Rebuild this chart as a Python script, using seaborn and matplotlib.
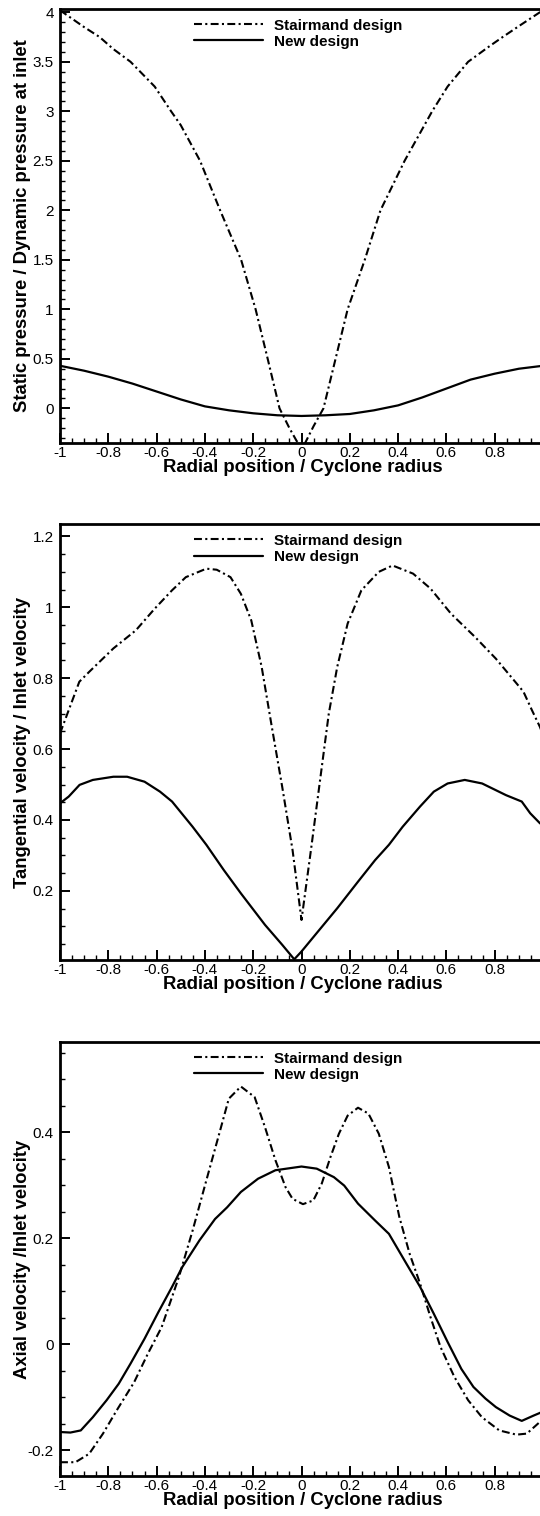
import numpy as np
import pandas as pd
import matplotlib
matplotlib.use("Agg")
import matplotlib.pyplot as plt
from matplotlib.ticker import MultipleLocator, FuncFormatter
import seaborn as sns

sns.set_style("white")
plt.rcParams["font.family"] = ["Liberation Sans", "DejaVu Sans"]
plt.rcParams["axes.unicode_minus"] = False
plt.rcParams["text.color"] = "black"
plt.rcParams["axes.labelcolor"] = "black"
plt.rcParams["xtick.color"] = "black"
plt.rcParams["ytick.color"] = "black"
plt.rcParams["axes.edgecolor"] = "black"

# ---------------- data ----------------
# Panel 1: static pressure / dynamic pressure at inlet
p_stair_x = [-1.0, -0.9, -0.836, -0.78, -0.708, -0.608, -0.54, -0.5, -0.42, -0.337, -0.25,
             -0.19, -0.14, -0.091, -0.05, -0.02, 0.0, 0.015, 0.05, 0.091, 0.141, 0.191,
             0.262, 0.327, 0.427, 0.541, 0.605, 0.69, 0.78, 0.833, 0.9, 0.987, 1.0]
p_stair_y = [4.02, 3.85, 3.75, 3.63, 3.5, 3.25, 3.0, 2.86, 2.5, 2.0, 1.5,
             1.0, 0.5, 0.0, -0.2, -0.33, -0.38, -0.35, -0.18, 0.0, 0.5, 1.0,
             1.5, 2.0, 2.5, 3.0, 3.25, 3.5, 3.66, 3.75, 3.86, 4.0, 4.03]
p_new_x = [-1.0, -0.9, -0.8, -0.7, -0.6, -0.5, -0.4, -0.3, -0.2, -0.1, 0.0,
           0.1, 0.2, 0.3, 0.4, 0.5, 0.6, 0.7, 0.8, 0.9, 1.0]
p_new_y = [0.43, 0.38, 0.32, 0.25, 0.17, 0.09, 0.02, -0.02, -0.05, -0.07, -0.077,
           -0.07, -0.057, -0.02, 0.03, 0.11, 0.20, 0.29, 0.35, 0.40, 0.43]

# Panel 2: tangential velocity / inlet velocity
t_stair_x = [-1.0, -0.92, -0.879, -0.779, -0.686, -0.608, -0.536, -0.479, -0.394, -0.351,
             -0.294, -0.251, -0.208, -0.165, -0.123, -0.08, -0.037, 0.0, 0.041, 0.077,
             0.113, 0.148, 0.191, 0.248, 0.32, 0.377, 0.462, 0.534, 0.619, 0.719,
             0.805, 0.919, 0.954, 0.987, 1.0]
t_stair_y = [0.644, 0.79, 0.818, 0.884, 0.935, 0.996, 1.048, 1.085, 1.109, 1.106,
             1.085, 1.038, 0.963, 0.832, 0.663, 0.494, 0.315, 0.118, 0.325, 0.513,
             0.70, 0.832, 0.954, 1.048, 1.10, 1.118, 1.095, 1.053, 0.982, 0.916,
             0.855, 0.762, 0.71, 0.663, 0.64]
t_new_x = [-1.0, -0.964, -0.919, -0.864, -0.779, -0.722, -0.65, -0.586, -0.536, -0.451,
           -0.394, -0.322, -0.251, -0.151, -0.08, -0.03, 0.0, 0.063, 0.148, 0.234,
           0.305, 0.362, 0.419, 0.491, 0.548, 0.605, 0.676, 0.748, 0.847, 0.912,
           0.947, 0.987, 1.0]
t_new_y = [0.447, 0.466, 0.499, 0.513, 0.522, 0.522, 0.508, 0.48, 0.452, 0.381,
           0.33, 0.259, 0.193, 0.104, 0.048, 0.007, 0.029, 0.081, 0.151, 0.226,
           0.287, 0.33, 0.381, 0.438, 0.48, 0.503, 0.513, 0.503, 0.47, 0.452,
           0.419, 0.391, 0.385]

# Panel 3: axial velocity / inlet velocity
a_stair_x = [-1.0, -0.936, -0.879, -0.822, -0.765, -0.693, -0.636, -0.579, -0.508, -0.451,
             -0.394, -0.337, -0.301, -0.251, -0.194, -0.151, -0.108, -0.066, -0.037, 0.006,
             0.049, 0.084, 0.12, 0.155, 0.191, 0.234, 0.277, 0.32, 0.362, 0.405,
             0.448, 0.491, 0.534, 0.576, 0.633, 0.69, 0.747, 0.819, 0.89, 0.933,
             0.987, 1.0]
a_stair_y = [-0.223, -0.223, -0.207, -0.169, -0.125, -0.072, -0.018, 0.032, 0.126, 0.214,
             0.309, 0.403, 0.463, 0.486, 0.466, 0.409, 0.347, 0.296, 0.274, 0.264,
             0.271, 0.303, 0.353, 0.397, 0.431, 0.446, 0.435, 0.397, 0.334, 0.24,
             0.17, 0.114, 0.051, -0.006, -0.062, -0.106, -0.138, -0.163, -0.171, -0.169,
             -0.147, -0.14]
a_new_x = [-1.0, -0.957, -0.914, -0.864, -0.807, -0.757, -0.708, -0.65, -0.593, -0.536,
           -0.494, -0.422, -0.358, -0.308, -0.251, -0.18, -0.108, 0.0, 0.063, 0.134,
           0.177, 0.234, 0.305, 0.362, 0.434, 0.491, 0.548, 0.605, 0.662, 0.712,
           0.762, 0.805, 0.862, 0.912, 0.961, 0.987, 1.0]
a_new_y = [-0.166, -0.167, -0.163, -0.138, -0.106, -0.075, -0.037, 0.01, 0.06, 0.108,
           0.145, 0.196, 0.236, 0.258, 0.287, 0.312, 0.328, 0.335, 0.331, 0.315,
           0.299, 0.265, 0.233, 0.208, 0.152, 0.108, 0.057, 0.004, -0.047, -0.081,
           -0.103, -0.119, -0.135, -0.145, -0.135, -0.13, -0.127]

labels = ["Stairmand design", "New design"]
xlabel = "Radial position / Cyclone radius"
ylabels = ["Static pressure / Dynamic pressure at inlet",
           "Tangential velocity / Inlet velocity",
           "Axial velocity /Inlet velocity"]
ylims = [(-0.35, 4.033), (0.005, 1.235), (-0.249, 0.57)]
ymajor = [0.5, 0.2, 0.2]
yminor = [0.1, 0.05, 0.05]

series = [
    ((p_stair_x, p_stair_y), (p_new_x, p_new_y)),
    ((t_stair_x, t_stair_y), (t_new_x, t_new_y)),
    ((a_stair_x, a_stair_y), (a_new_x, a_new_y)),
]

# ---------------- figure ----------------
W, H = 540, 1516
fig = plt.figure(figsize=(W / 100, H / 100), dpi=100)
left_px, right_px = 60, 543
panels_px = [(9, 443), (524, 960), (1042, 1476)]

dashdot = (0, (3.8, 1.6, 1.0, 1.6))
fmt = FuncFormatter(lambda v, p: "{:g}".format(round(v, 6)))

for i, ((top, bot), (stair, new)) in enumerate(zip(panels_px, series)):
    ax = fig.add_axes([left_px / W, 1 - bot / H, (right_px - left_px) / W, (bot - top) / H])
    sns.lineplot(x=stair[0], y=stair[1], ax=ax, color="black", linewidth=1.5,
                 linestyle=dashdot, label=labels[0], estimator=None, sort=False)
    sns.lineplot(x=new[0], y=new[1], ax=ax, color="black", linewidth=1.6,
                 linestyle="-", label=labels[1], estimator=None, sort=False)
    ax.set_xlim(-1, 1)
    ax.set_ylim(*ylims[i])
    ax.xaxis.set_major_locator(MultipleLocator(0.2))
    ax.xaxis.set_minor_locator(MultipleLocator(0.05))
    ax.yaxis.set_major_locator(MultipleLocator(ymajor[i]))
    ax.yaxis.set_minor_locator(MultipleLocator(yminor[i]))
    ax.xaxis.set_major_formatter(fmt)
    ax.yaxis.set_major_formatter(fmt)
    ax.tick_params(which="both", direction="in", top=False, right=False,
                   bottom=True, left=True, colors="black", labelcolor="black",
                   labelsize=11)
    ax.tick_params(which="major", length=7, width=1.4)
    ax.tick_params(which="minor", length=3.6, width=1.0)
    ax.tick_params(axis="x", which="major", pad=2.5)
    ax.tick_params(axis="y", which="major", pad=4.5)
    for sp in ax.spines.values():
        sp.set_linewidth(2.0)
        sp.set_color("black")
    ax.set_xlabel(xlabel, fontsize=13.3, fontweight="bold", color="black")
    ax.set_ylabel(ylabels[i], fontsize=13.3, fontweight="bold", color="black")
    ax.xaxis.set_label_coords(0.503, -0.036)
    ax.yaxis.set_label_coords(-0.06, 0.5)
    leg = ax.legend(loc="upper left", bbox_to_anchor=(0.277, 0.978), frameon=False,
                    handlelength=4.5, handletextpad=0.75, labelspacing=0.15,
                    borderaxespad=0, borderpad=0, prop={"size": 11, "weight": "bold"})
    for t in leg.get_texts():
        t.set_color("black")

fig.savefig("out.png", dpi=100)
